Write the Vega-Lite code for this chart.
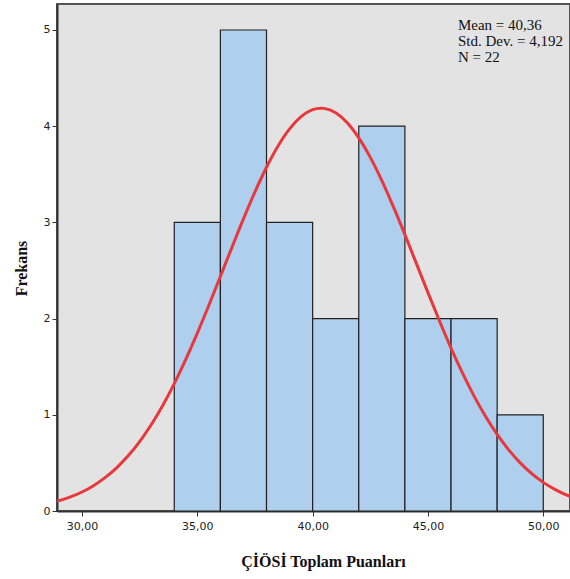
{
  "$schema": "https://vega.github.io/schema/vega-lite/v6.json",
  "width": 513,
  "height": 507,
  "autosize": {"type": "none"},
  "padding": {"left": 57, "top": 4, "right": 0, "bottom": 68},
  "background": "white",
  "config": {
    "view": {"fill": "#e3e3e3", "stroke": "#555555", "strokeWidth": 2},
    "axis": {
      "labelFont": "DejaVu Sans", "labelFontSize": 11, "labelColor": "#222222",
      "titleFont": "Liberation Serif", "titleFontSize": 16, "titleFontWeight": "bold", "titleColor": "#111111",
      "domainColor": "#333333", "domainWidth": 2, "tickColor": "#333333", "tickSize": 5, "grid": false
    }
  },
  "datasets": {
    "bins": [
      {"start": 34, "end": 36, "count": 3},
      {"start": 36, "end": 38, "count": 5},
      {"start": 38, "end": 40, "count": 3},
      {"start": 40, "end": 42, "count": 2},
      {"start": 42, "end": 44, "count": 4},
      {"start": 44, "end": 46, "count": 2},
      {"start": 46, "end": 48, "count": 2},
      {"start": 48, "end": 50, "count": 1}
    ],
    "curve": [
      {"x": 28.9, "y": 0.0998}, {"x": 29.5, "y": 0.1461}, {"x": 30, "y": 0.1976}, {"x": 30.5, "y": 0.2634},
      {"x": 31, "y": 0.3463}, {"x": 31.5, "y": 0.4487}, {"x": 32, "y": 0.5733}, {"x": 32.5, "y": 0.7221},
      {"x": 33, "y": 0.8966}, {"x": 33.5, "y": 1.0976}, {"x": 34, "y": 1.3247}, {"x": 34.5, "y": 1.5761},
      {"x": 35, "y": 1.8489}, {"x": 35.5, "y": 2.1383}, {"x": 36, "y": 2.438}, {"x": 36.5, "y": 2.7406},
      {"x": 37, "y": 3.037}, {"x": 37.5, "y": 3.3179}, {"x": 38, "y": 3.5736}, {"x": 38.5, "y": 3.7948},
      {"x": 39, "y": 3.9727}, {"x": 39.5, "y": 4.1002}, {"x": 40, "y": 4.172}, {"x": 40.36, "y": 4.1874},
      {"x": 40.5, "y": 4.1851}, {"x": 41, "y": 4.1389}, {"x": 41.5, "y": 4.0354}, {"x": 42, "y": 3.8789},
      {"x": 42.5, "y": 3.6758}, {"x": 43, "y": 3.4342}, {"x": 43.5, "y": 3.1631}, {"x": 44, "y": 2.8723},
      {"x": 44.5, "y": 2.5714}, {"x": 45, "y": 2.2694}, {"x": 45.5, "y": 1.9747}, {"x": 46, "y": 1.6938},
      {"x": 46.5, "y": 1.4325}, {"x": 47, "y": 1.1943}, {"x": 47.5, "y": 0.9817}, {"x": 48, "y": 0.7956},
      {"x": 48.5, "y": 0.6356}, {"x": 49, "y": 0.5005}, {"x": 49.5, "y": 0.3888}, {"x": 50, "y": 0.2975},
      {"x": 50.5, "y": 0.2246}, {"x": 51, "y": 0.1672}, {"x": 51.2, "y": 0.1479}
    ]
  },
  "layer": [
    {
      "data": {"name": "bins"},
      "mark": {"type": "rect", "fill": "#aed0ee", "stroke": "#222222", "strokeWidth": 1.2},
      "encoding": {
        "x": {
          "field": "start", "type": "quantitative",
          "scale": {"domain": [28.916, 51.158], "nice": false, "zero": false},
          "axis": {
            "values": [30, 35, 40, 45, 50],
            "labelExpr": "replace(format(datum.value, '.2f'), '.', ',')",
            "title": "ÇİÖSİ Toplam Puanları",
            "titleFont": "Liberation Serif", "titleFontSize": 16, "titleFontWeight": "bold",
            "titlePadding": 22, "labelPadding": 4, "labelFlush": false, "titleX": 266
          }
        },
        "x2": {"field": "end"},
        "y": {
          "field": "count", "type": "quantitative",
          "scale": {"domain": [0, 5.27], "nice": false},
          "axis": {
            "values": [0, 1, 2, 3, 4, 5],
            "format": "d",
            "title": "Frekans",
            "titleFont": "Liberation Serif", "titleFontSize": 16, "titleFontWeight": "bold",
            "titlePadding": 14, "labelPadding": 2, "titleY": 264
          }
        },
        "y2": {"datum": 0}
      }
    },
    {
      "data": {"name": "curve"},
      "mark": {"type": "line", "color": "#e8383d", "strokeWidth": 3, "clip": true, "interpolate": "monotone"},
      "encoding": {
        "x": {"field": "x", "type": "quantitative"},
        "y": {"field": "y", "type": "quantitative"}
      }
    },
    {
      "data": {"values": [{"t": "stats"}]},
      "mark": {
        "type": "text", "align": "left", "baseline": "top", "font": "Liberation Serif",
        "fontSize": 15, "lineHeight": 16, "color": "#111111",
        "text": ["Mean = 40,36", "Std. Dev. = 4,192", "N = 22"]
      },
      "encoding": {
        "x": {"datum": 46.3},
        "y": {"datum": 5.12}
      }
    }
  ]
}
